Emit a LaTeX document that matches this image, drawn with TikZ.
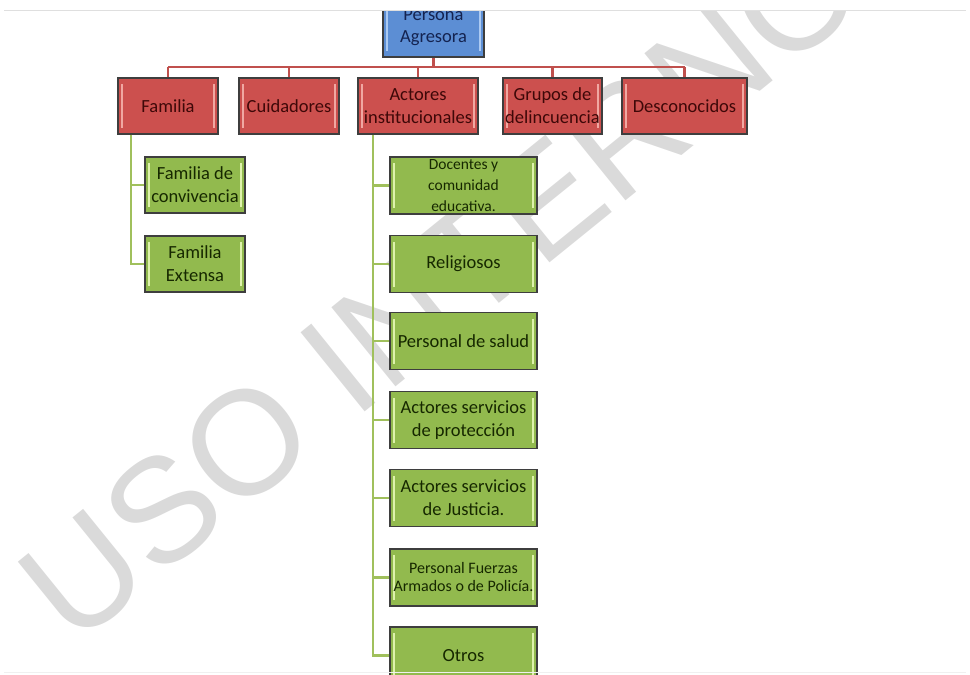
\documentclass[tikz,border=0pt]{standalone}
\usepackage{fontspec}
\setmainfont{Carlito}
\newfontfamily\wmfont{Liberation Sans}
\definecolor{redfill}{RGB}{204,80,78}
\definecolor{redtext}{RGB}{62,8,8}
\definecolor{redhl}{RGB}{240,168,162}
\definecolor{greenfill}{RGB}{146,186,78}
\definecolor{greentext}{RGB}{22,40,0}
\definecolor{greenhl}{RGB}{222,242,172}
\definecolor{bluefill}{RGB}{92,142,212}
\definecolor{bluetext}{RGB}{20,35,80}
\definecolor{bluehl}{RGB}{172,202,242}
\definecolor{redline}{RGB}{192,80,77}
\definecolor{greenline}{RGB}{160,192,92}
\definecolor{boxborder}{RGB}{62,62,62}
\definecolor{wmgray}{RGB}{218,218,218}
\tikzset{
  hl/.style={path picture={
    \fill[#1] ([xshift=3pt,yshift=-6pt]path picture bounding box.north west) rectangle ([xshift=5pt,yshift=6pt]path picture bounding box.south west);
    \fill[#1] ([xshift=-3pt,yshift=-6pt]path picture bounding box.north east) rectangle ([xshift=-5pt,yshift=6pt]path picture bounding box.south east);
  }},
  basebox/.style={draw=boxborder, line width=1.3pt, inner sep=0pt, align=center, font=\fontsize{18.5}{23}\selectfont},
  bluebox/.style={basebox, fill=bluefill, text=bluetext, hl=bluehl, minimum width=101pt, minimum height=60pt},
  redbox/.style={basebox, fill=redfill, text=redtext, hl=redhl, minimum height=56pt},
  greenbox/.style={basebox, fill=greenfill, text=greentext, hl=greenhl, minimum height=57pt},
  redconn/.style={draw=redline, line width=2.2pt},
  greenconn/.style={draw=greenline, line width=2.4pt},
}
\begin{document}
\begin{tikzpicture}[x=1pt,y=-1pt]
\useasboundingbox (0,0) rectangle (970,675);
\clip (0,0) rectangle (970,675);
% watermark
\node[rotate=39, text=wmgray, font=\fontsize{148}{148}\selectfont\wmfont] (wm) at (441,285) {USO INTERNO};
% top node
\node[bluebox] (pa) at (433.5,27) {\raisebox{-4pt}{\begin{tabular}{@{}c@{}}Persona\\[-1pt]Agresora\end{tabular}}};
% level 1
\node[redbox, minimum width=100pt] (fam) at (168,106) {Familia};
\node[redbox, minimum width=100pt] (cuid) at (289,106) {Cuidadores};
\node[redbox, minimum width=120pt] (act) at (418,106) {Actores\\institucionales};
\node[redbox, minimum width=99pt] (grup) at (552.5,106) {Grupos de\\delincuencia};
\node[redbox, minimum width=125pt] (desc) at (684.5,106) {Desconocidos};
% family children
\node[greenbox, minimum width=100pt, minimum height=56pt] (fc1) at (195,185) {Familia de\\convivencia};
\node[greenbox, minimum width=100pt, minimum height=56pt] (fc2) at (195,264) {Familia\\Extensa};
% institutional children
\node[greenbox, minimum width=147pt, font=\fontsize{15.5}{21}\selectfont] (ac1) at (463.5,185.5) {Docentes y\\comunidad\\educativa.};
\node[greenbox, minimum width=147pt] (ac2) at (463.5,264) {Religiosos};
\node[greenbox, minimum width=147pt] (ac3) at (463.5,341) {Personal de salud};
\node[greenbox, minimum width=147pt] (ac4) at (463.5,420) {Actores servicios\\de protección};
\node[greenbox, minimum width=147pt] (ac5) at (463.5,498) {Actores servicios\\de Justicia.};
\node[greenbox, minimum width=147pt, font=\fontsize{16}{18}\selectfont] (ac6) at (463.5,577.5) {Personal Fuerzas\\Armados o de Policía.};
\node[greenbox, minimum width=147pt] (ac7) at (463.5,655.5) {Otros};
% red connectors
\coordinate (rbus) at (0,67);
\draw[redconn] (pa.south) -- (pa.south |- rbus);
\draw[redconn] (fam.north |- rbus) -- (desc.north |- rbus);
\foreach \n in {fam,cuid,act,grup,desc}{\draw[redconn] (\n.north |- rbus) -- (\n.north);}
% family connectors
\coordinate (fbus) at (131,0);
\draw[greenconn] (fbus |- fam.south) |- (fc2.west);
\draw[greenconn] (fbus |- fc1.west) -- (fc1.west);
% institutional connectors
\coordinate (abus) at (373,0);
\draw[greenconn] (abus |- act.south) |- (ac7.west);
\foreach \n in {ac1,ac2,ac3,ac4,ac5,ac6}{\draw[greenconn] (abus |- \n.west) -- (\n.west);}
% page frame
\fill[white] (0,0) rectangle (970,10);
\draw[gray!25, line width=1pt] (4,10.5) -- (966,10.5);
\draw[gray!12, line width=1pt] (4,672) -- (966,672);
\end{tikzpicture}
\end{document}
